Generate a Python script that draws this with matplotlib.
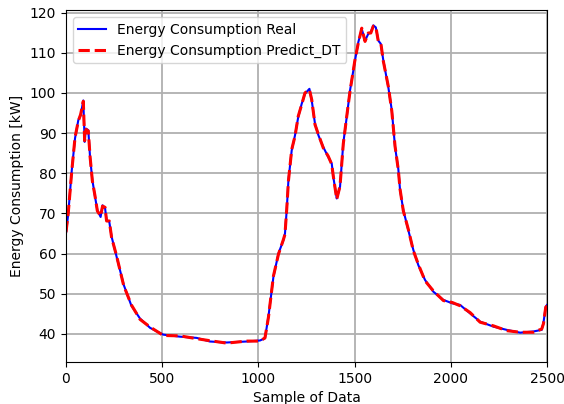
import matplotlib
matplotlib.use('Agg')
import matplotlib.pyplot as plt

# ===== 数据 =====
samples = [0, 12, 30, 47, 64, 76, 90, 97, 104, 116, 125, 137, 151, 163, 180,
           190, 203, 211, 225, 237, 263, 300, 340, 385, 437, 506, 593, 679,
           748, 835, 939, 1008, 1034, 1052, 1078, 1104, 1130, 1138, 1147,
           1156, 1173, 1190, 1207, 1225, 1242, 1265, 1277, 1294, 1312, 1337,
           1363, 1381, 1389, 1407, 1424, 1441, 1459, 1476, 1502, 1519, 1537,
           1554, 1571, 1584, 1597, 1610, 1623, 1636, 1649, 1675, 1693, 1710,
           1727, 1736, 1753, 1779, 1805, 1831, 1866, 1909, 1961, 2008, 2048,
           2100, 2152, 2221, 2290, 2360, 2429, 2472, 2481, 2493, 2500]

energy_real = [65.0, 70.0, 80.7, 88.7, 93.2, 94.4, 98.1, 87.8, 91.1, 90.7,
               84.0, 78.3, 74.1, 70.8, 69.1, 72.0, 71.3, 68.3, 67.9, 64.2,
               59.2, 52.2, 47.0, 43.8, 41.5, 39.8, 39.3, 39.0, 38.1, 37.85,
               38.1, 38.35, 38.9, 44.3, 54.2, 60.0, 63.35, 65.0, 70.8, 78.3,
               85.7, 89.4, 94.0, 97.3, 99.8, 101.0, 98.1, 92.3, 89.4, 86.5,
               84.0, 82.4, 79.1, 73.7, 76.6, 87.5, 94.0, 100.6, 108.1, 112.6,
               115.9, 113.0, 114.7, 115.1, 116.8, 116.3, 113.0, 112.2, 108.1,
               101.4, 95.7, 86.5, 81.0, 75.8, 70.8, 65.8, 60.9, 57.1, 53.4,
               50.5, 48.45, 47.6, 47.2, 45.1, 43.05, 41.8, 41.0, 40.3, 40.6,
               41.0, 42.7, 46.8, 47.2]

energy_pred = [65.3, 70.2, 80.5, 88.9, 93.0, 94.6, 97.9, 88.1, 90.9, 90.5,
               84.2, 78.1, 74.3, 70.6, 69.3, 71.8, 71.5, 68.1, 68.1, 64.0,
               59.4, 52.0, 47.2, 43.6, 41.7, 39.6, 39.5, 38.8, 38.3, 37.7,
               38.2, 38.2, 39.0, 44.1, 54.4, 59.8, 63.5, 64.8, 71.0, 78.1,
               85.9, 89.2, 94.2, 97.1, 100.0, 100.8, 98.3, 92.1, 89.6, 86.3,
               84.2, 82.2, 79.3, 73.5, 76.8, 87.3, 94.2, 100.4, 108.3, 112.4,
               116.1, 112.8, 114.9, 114.9, 116.6, 116.5, 112.8, 112.4, 107.9,
               101.6, 95.5, 86.7, 80.8, 76.0, 70.6, 66.0, 60.7, 57.3, 53.2,
               50.7, 48.3, 47.8, 47.0, 45.3, 42.9, 42.0, 40.8, 40.4, 40.4,
               41.2, 42.5, 46.6, 47.0]

# ===== 绘图 =====
fig = plt.figure(figsize=(5.64, 4.04), dpi=100)
ax = fig.add_axes([0.117, 0.104, 0.853, 0.871])

ax.plot(samples, energy_real, '-', color='blue', linewidth=1.5,
        label='Energy Consumption Real')
ax.plot(samples, energy_pred, '--', color='red', linewidth=2.2,
        label='Energy Consumption Predict_DT')

ax.set_xlim(0, 2500)
ax.set_ylim(33, 120.6)
ax.set_xticks([0, 500, 1000, 1500, 2000, 2500])
ax.set_yticks([40, 50, 60, 70, 80, 90, 100, 110, 120])
ax.tick_params(labelsize=10)
ax.set_xlabel('Sample of Data', fontsize=10)
ax.set_ylabel('Energy Consumption [kW]', fontsize=10)
ax.grid(color='#b0b0b0', linewidth=1.3)
ax.set_axisbelow(True)
ax.legend(loc='upper left', fontsize=10)

fig.savefig('out.png', dpi=100)
